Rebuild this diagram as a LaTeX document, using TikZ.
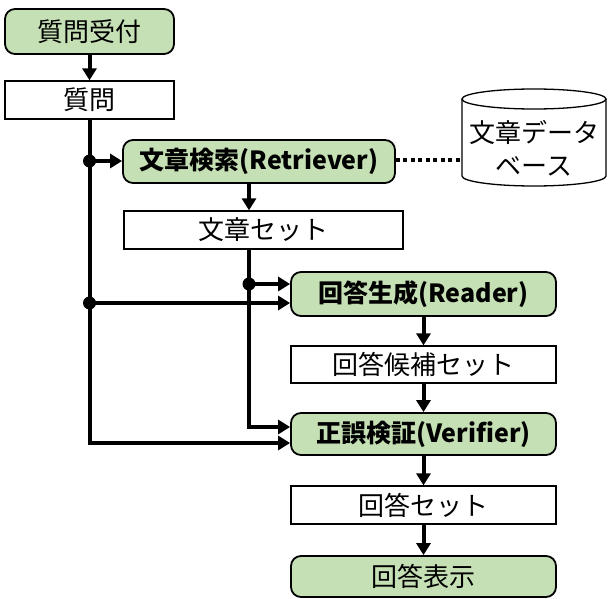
\documentclass[tikz,border=0pt]{standalone}
\usepackage{fontspec}
\setmainfont{Noto Sans CJK JP}
\usetikzlibrary{arrows.meta}
\definecolor{boxgreen}{HTML}{C5E0B4}
\tikzset{
  proc/.style={draw=black, line width=1.8pt, fill=boxgreen, rounded corners=10pt, inner sep=0pt, font=\fontsize{26}{30}\selectfont},
  procb/.style={proc, font=\fontsize{25}{30}\selectfont\bfseries},
  data/.style={draw=black, line width=1.3pt, fill=white, inner sep=0pt, font=\fontsize{26}{30}\selectfont},
  conn/.style={line width=4pt, -{Triangle[length=12pt,width=14pt]}},
  dot/.style={circle, fill=black, inner sep=0pt, minimum size=13pt},
}
\begin{document}
\begin{tikzpicture}[x=1pt,y=-1pt]
\useasboundingbox (0,0) rectangle (608,599);
% nodes
\node[proc, minimum width=169pt, minimum height=45pt] (q1) at (89.5,31.5) {質問受付};
\node[data, minimum width=169pt, minimum height=38pt] (q2) at (89.5,100) {質問};
\node[procb, minimum width=272pt, minimum height=43pt] (ret) at (259,161.5) {文章検索(Retriever)};
\node[data, minimum width=279pt, minimum height=38pt] (ds) at (263.5,230) {文章セット};
\node[procb, minimum width=265pt, minimum height=44pt] (rd) at (423.5,294) {回答生成(Reader)};
\node[data, minimum width=265pt, minimum height=37pt] (cand) at (423.5,364.5) {回答候補セット};
\node[procb, minimum width=265pt, minimum height=42pt] (ver) at (423.5,434) {正誤検証(Verifier)};
\node[data, minimum width=265pt, minimum height=38pt] (ans) at (423.5,505) {回答セット};
\node[proc, minimum width=265pt, minimum height=41pt] (disp) at (423.5,576.5) {回答表示};
% database cylinder
\draw[line width=1.3pt, fill=white] (462,99) -- (462,176) arc[start angle=180, end angle=360, x radius=72pt, y radius=10pt] -- (606,99);
\draw[line width=1.3pt, fill=white] (534,99) ellipse [x radius=72pt, y radius=10pt];
\node[inner sep=0pt, minimum width=144pt, minimum height=77pt, align=center, font=\fontsize{26}{33}\selectfont] (db) at (534,148) {文章データ\\ベース};
% junction coordinates
\coordinate (j1) at (89.5,161);
\coordinate (j2) at (89.5,303);
\coordinate (c1) at (89.5,443);
\coordinate (k1) at (249,284);
\coordinate (k2) at (249,427);
% connectors
\draw[conn] (q1) -- (q2);
\draw[conn] (c1 |- q2.south) -- (c1) -- (c1 -| ver.west);
\draw[conn] (j1) -- (j1 -| ret.west);
\draw[conn] (j2) -- (j2 -| rd.west);
\draw[conn] (k1 |- ret.south) -- (k1 |- ds.north);
\draw[conn] (k1 |- ds.south) -- (k2) -- (k2 -| ver.west);
\draw[conn] (k1) -- (k1 -| rd.west);
\draw[conn] (rd) -- (cand);
\draw[conn] (cand) -- (ver);
\draw[conn] (ver) -- (ans);
\draw[conn] (ans) -- (disp);
\draw[line width=4pt, dash pattern=on 4pt off 3.5pt] (ret.east |- 0,160) -- (462,160);
\node[dot] (d1) at (j1) {};
\node[dot] (d2) at (j2) {};
\node[dot] (d3) at (k1) {};
\end{tikzpicture}
\end{document}
